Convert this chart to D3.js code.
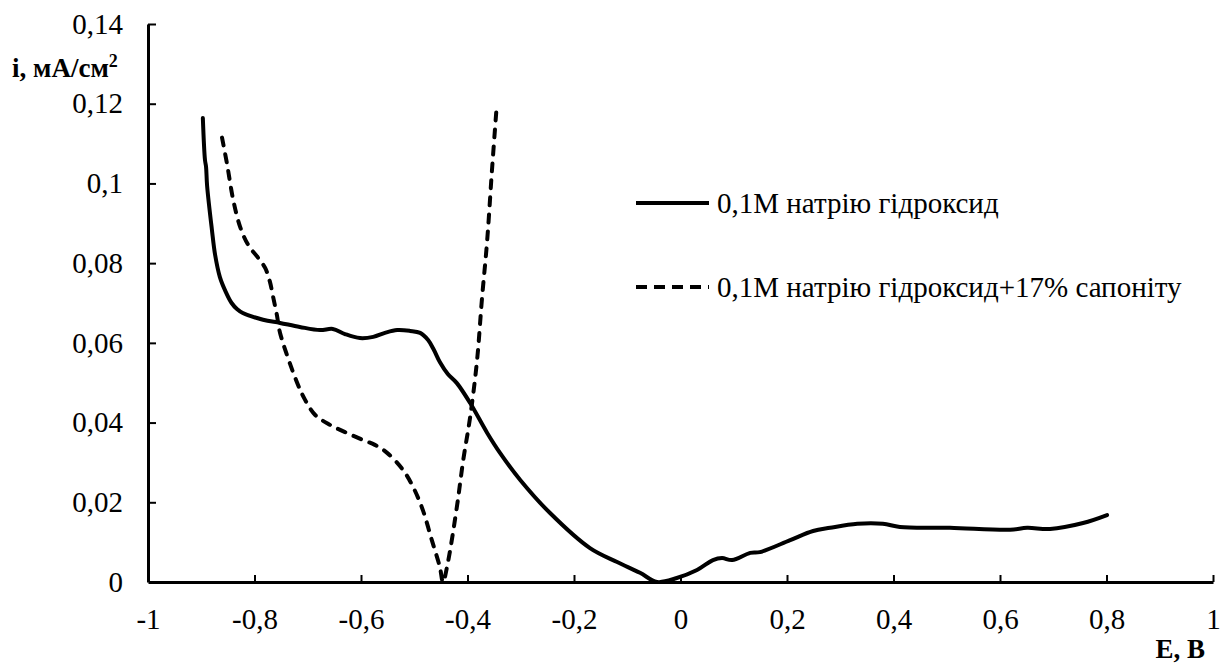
<html>
<head>
<meta charset="utf-8">
<script src="https://cdn.jsdelivr.net/npm/d3@7"></script>
</head>
<body style="margin:0">
<svg width="1220" height="663" font-family="Liberation Serif, Tinos, Times New Roman"></svg>
<script>
// values
var seriesNames = ['0,1М натрію гідроксид', '0,1М натрію гідроксид+17% сапоніту'];

var naohE = [-0.897, -0.893, -0.891, -0.889, -0.880, -0.874, -0.865, -0.854, -0.843, -0.833, -0.822,
	-0.784, -0.752, -0.715, -0.677, -0.653, -0.630, -0.602, -0.577, -0.555, -0.532, -0.508, -0.489,
	-0.474, -0.463, -0.452, -0.437, -0.420, -0.395, -0.363, -0.339, -0.301, -0.245, -0.170, -0.119,
	-0.076, -0.044, -0.007, 0.031, 0.061, 0.078, 0.097, 0.131, 0.149, 0.206, 0.249, 0.281, 0.332,
	0.380, 0.412, 0.506, 0.619, 0.651, 0.694, 0.756, 0.801];
var naohI = [0.1164, 0.1059, 0.1042, 0.0994, 0.0884, 0.0821, 0.0765, 0.0728, 0.0700, 0.0685, 0.0675,
	0.0658, 0.0650, 0.0640, 0.0632, 0.0635, 0.0622, 0.0612, 0.0615, 0.0625, 0.0632, 0.0630, 0.0625,
	0.0607, 0.0582, 0.0552, 0.0522, 0.0499, 0.0449, 0.0374, 0.0324, 0.0256, 0.0173, 0.0085, 0.0050,
	0.0023, 0.0000, 0.0010, 0.0030, 0.0055, 0.0060, 0.0055, 0.0073, 0.0075, 0.0105, 0.0128, 0.0136,
	0.0146, 0.0146, 0.0138, 0.0136, 0.0131, 0.0136, 0.0133, 0.0148, 0.0168];

var saponE = [-0.861, -0.852, -0.840, -0.827, -0.812, -0.793, -0.780, -0.771, -0.765, -0.758, -0.752,
	-0.722, -0.705, -0.686, -0.658, -0.630, -0.596, -0.574, -0.551, -0.521, -0.502, -0.484, -0.467,
	-0.452, -0.446, -0.437, -0.420, -0.408, -0.395, -0.382, -0.373, -0.363, -0.354, -0.345];
var saponI = [0.1115, 0.1052, 0.0959, 0.0891, 0.0846, 0.0813, 0.0788, 0.0753, 0.0715, 0.0670, 0.0625,
	0.0507, 0.0457, 0.0419, 0.0394, 0.0376, 0.0356, 0.0344, 0.0324, 0.0281, 0.0238, 0.0181, 0.0105,
	0.0038, 0.0000, 0.0048, 0.0188, 0.0306, 0.0414, 0.0557, 0.0708, 0.0858, 0.1034, 0.1197];

var xTicks = [-1, -0.8, -0.6, -0.4, -0.2, 0, 0.2, 0.4, 0.6, 0.8, 1];
var yTicks = [0, 0.02, 0.04, 0.06, 0.08, 0.1, 0.12, 0.14];

var FONT = 'Liberation Serif, Tinos, Times New Roman';

function main() {
	var svg = d3.select('svg');

	var x = d3.scaleLinear().domain([-1, 1]).range([148, 1213]);
	var y = d3.scaleLinear().domain([0, 0.14]).range([582, 24]);

	var loc = d3.formatLocale({decimal: ',', thousands: ' ', grouping: [3], currency: ['', ''], minus: '-'});
	var fmt = loc.format('~g');

	// axes, ticks pointing inside
	var xAxis = svg.append('g')
		.attr('transform', 'translate(0,' + y(0) + ')')
		.call(d3.axisBottom(x).tickValues(xTicks).tickFormat(fmt).tickSizeInner(-7).tickSizeOuter(0).tickPadding(26));
	var yAxis = svg.append('g')
		.attr('transform', 'translate(' + x(-1) + ',0)')
		.call(d3.axisLeft(y).tickValues(yTicks).tickFormat(fmt).tickSizeInner(-8).tickSizeOuter(0).tickPadding(25));

	[xAxis, yAxis].forEach(function(a) {
		a.attr('font-family', FONT).attr('font-size', 29);
		a.select('.domain').attr('stroke', '#000').attr('stroke-width', 3);
		a.selectAll('.tick line').attr('stroke', '#000').attr('stroke-width', 2);
		a.selectAll('.tick text').attr('fill', '#000');
	});
	xAxis.selectAll('.tick text').attr('dy', '0.71em');
	// no tick at the corner
	xAxis.selectAll('.tick').filter(function(d) { return d === -1; }).select('line').remove();
	yAxis.selectAll('.tick').filter(function(d) { return d === 0; }).select('line').remove();

	var line = d3.line()
		.x(function(d) { return x(d[0]); })
		.y(function(d) { return y(d[1]); })
		.curve(d3.curveCatmullRom.alpha(0.5));

	var solid = naohE.map(function(e, i) { return [e, naohI[i]]; });
	var dashed = saponE.map(function(e, i) { return [e, saponI[i]]; });

	svg.append('path')
		.datum(solid)
		.attr('d', line)
		.attr('fill', 'none')
		.attr('stroke', '#000')
		.attr('stroke-width', 4)
		.attr('stroke-linejoin', 'round')
		.attr('stroke-linecap', 'round');

	svg.append('path')
		.datum(dashed)
		.attr('d', line)
		.attr('fill', 'none')
		.attr('stroke', '#000')
		.attr('stroke-width', 4)
		.attr('stroke-dasharray', '8,9')
		.attr('stroke-linecap', 'round');

	// legend
	var legend = svg.append('g').attr('font-family', FONT).attr('font-size', 29);
	var rows = [{name: seriesNames[0], y: 203, dash: null}, {name: seriesNames[1], y: 287, dash: '11,7'}];
	rows.forEach(function(r) {
		legend.append('line')
			.attr('x1', 636).attr('x2', 709)
			.attr('y1', r.y).attr('y2', r.y)
			.attr('stroke', '#000')
			.attr('stroke-width', 4)
			.attr('stroke-dasharray', r.dash);
		legend.append('text')
			.attr('x', 717).attr('y', r.y)
			.attr('dy', '0.35em')
			.text(r.name);
	});

	// axis titles
	var yt = svg.append('text')
		.attr('x', 12).attr('y', 77)
		.attr('font-family', FONT)
		.attr('font-size', 27)
		.attr('font-weight', 'bold');
	yt.append('tspan').text('i, мА/см');
	yt.append('tspan').attr('dy', -10).attr('font-size', 18).text('2');

	svg.append('text')
		.attr('x', 1205).attr('y', 658)
		.attr('text-anchor', 'end')
		.attr('font-family', FONT)
		.attr('font-size', 27)
		.attr('font-weight', 'bold')
		.text('E, B');
}
main();
</script>
</body>
</html>
